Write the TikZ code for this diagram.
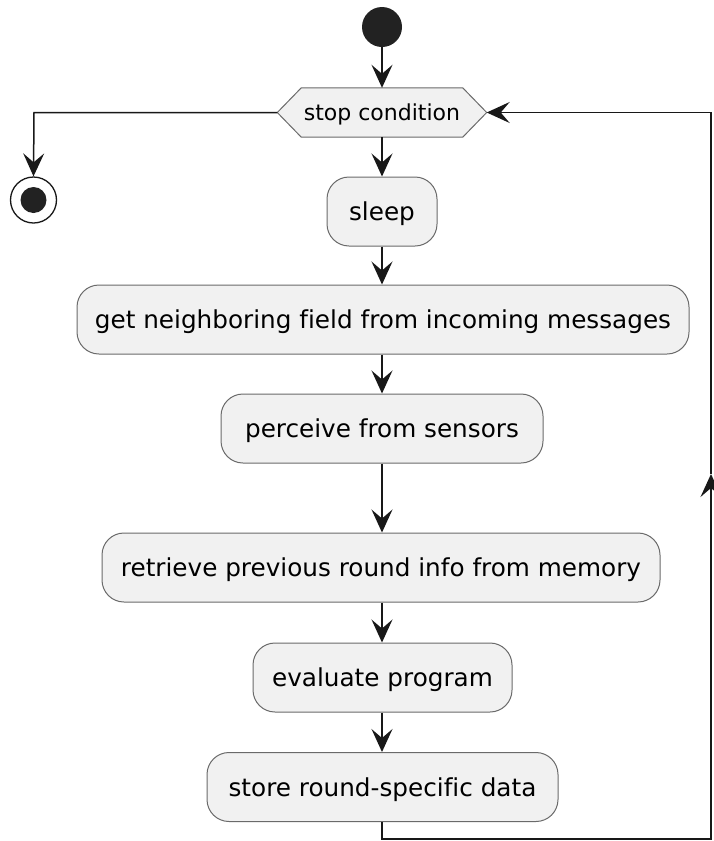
\documentclass[tikz,border=0pt]{standalone}
\usepackage{fontspec}
\setmainfont{DejaVu Sans}[Ligatures=NoCommon]
\usetikzlibrary{arrows.meta,backgrounds}
\definecolor{boxfill}{HTML}{F1F1F1}
\definecolor{boxline}{HTML}{6A6A6A}
\definecolor{ink}{HTML}{181818}
\definecolor{dot}{HTML}{222222}
\begin{document}
\begin{tikzpicture}[x=1pt,y=-1pt,
  act/.style={draw=boxline, line width=1pt, fill=boxfill, rounded corners=22pt,
    minimum height=69pt, inner xsep=0pt, inner ysep=0pt,
    text height=22pt, text depth=4pt,
    font=\fontsize{24.7}{28}\selectfont, text=black},
  condtext/.style={minimum width=209pt, minimum height=49pt, inner sep=0pt,
    text height=19pt, text depth=4pt,
    font=\fontsize{22}{26}\selectfont, text=black},
  hexline/.style={draw=boxline, line width=1pt, fill=boxfill},
  flow/.style={draw=ink, line width=1.5pt, -{Stealth[length=23pt,width=21pt,inset=9pt]}},
  ]
\useasboundingbox (0,0) rectangle (713,841);

% start and end markers
\node[circle, fill=dot, minimum size=40pt, inner sep=0pt] (start) at (382,27) {};
\node[circle, draw=ink, line width=1.3pt, fill=white, minimum size=46pt, inner sep=0pt] (stop) at (33.5,200) {};
\node[circle, fill=dot, minimum size=26pt, inner sep=0pt] (stopdot) at (stop) {};

% loop condition (hexagon)
\node[condtext] (cond) at (382,112.5) {stop condition};
\begin{scope}[on background layer]
\draw[hexline] (cond.west) -- ([xshift=24pt]cond.north west) -- ([xshift=-24pt]cond.north east)
  -- (cond.east) -- ([xshift=-24pt]cond.south east) -- ([xshift=24pt]cond.south west) -- cycle;
\end{scope}

% activities
\node[act, minimum width=110pt] (sleep) at (382,211.5) {sleep};
\node[act, minimum width=612pt] (neigh) at (383,319.5) {get neighboring field from incoming messages};
\node[act, minimum width=322pt] (sense) at (382,428.5) {perceive from sensors};
\node[act, minimum width=558pt] (mem) at (381,567.5) {retrieve previous round info from memory};
\node[act, minimum width=259pt] (eval) at (382.5,677.5) {evaluate program};
\node[act, minimum width=351pt] (store) at (382.5,787) {store round-specific data};

% main flow
\draw[flow] (start) -- (cond);
\draw[flow] (cond) -- (sleep);
\draw[flow] (sleep) -- (neigh.north -| sleep);
\draw[flow] (neigh.south -| sleep) -- (sense);
\draw[flow] (sense) -- (mem.north -| sense);
\draw[flow] (mem.south -| sense) -- (eval.north -| sense);
\draw[flow] (eval.south -| sense) -- (store.north -| sense);

% exit branch
\coordinate (exitcorner) at (34,112.5);
\draw[flow] (cond.west) -- (exitcorner) -- (stop.north);

% loop back
\coordinate (loopA) at (382,839);
\coordinate (loopB) at (711,839);
\coordinate (loopMid) at (711,474);
\coordinate (loopC) at (711,112.5);
\draw[flow] (store.south -| sense) -- (loopA) -- (loopB) -- (loopMid);
\draw[flow] (loopMid) -- (loopC) -- (cond.east);
\end{tikzpicture}
\end{document}
